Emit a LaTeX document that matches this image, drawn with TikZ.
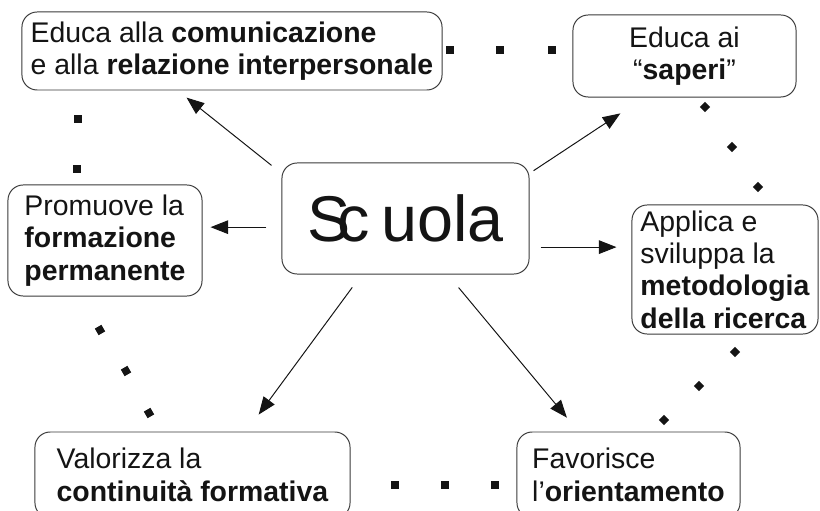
\documentclass[tikz,border=0pt]{standalone}
\usepackage{fontspec}
\setmainfont{Liberation Sans}
\usetikzlibrary{arrows.meta}
\definecolor{MapInk}{HTML}{141414}
\definecolor{MapLine}{HTML}{3A3A3A}
\definecolor{MapWhite}{HTML}{FFFFFF}
\tikzset{
  idea/.style={draw=MapLine,line width=0.7pt,fill=MapWhite,rounded corners=0.38cm,text=MapInk,inner sep=0pt,font=\fontsize{20.2}{23}\selectfont},
  link/.style={draw=MapInk,line width=0.7pt,-{Triangle[length=0.44cm,width=0.34cm]}},
  sqdot/.style={fill=MapInk,inner sep=0pt,minimum size=0.2cm},
  rhdot/.style={sqdot,rotate=45,minimum size=0.18cm},
  tidot/.style={sqdot,rotate=30,minimum size=0.19cm}
}

\begin{document}
\begin{tikzpicture}[x=0.025cm,y=-0.025cm]
\useasboundingbox (0,0) rectangle (820,511);
% the seven boxes
\node[idea,minimum width=10.5cm,minimum height=1.95cm,align=left] (comunic) at (232,51) {Educa alla \textbf{comunicazione}\\e alla \textbf{relazione interpersonale}};
\node[idea,minimum width=5.575cm,minimum height=2.05cm,align=center] (saperi) at (684.5,56) {Educa ai\\“\textbf{saperi}”};
\node[idea,minimum width=6.175cm,minimum height=2.775cm,font=\fontsize{46}{50}\selectfont] (scuola) at (405.5,218.5) {S\kern-0.2em c\kern0.18em uola};
\node[idea,minimum width=4.85cm,minimum height=2.775cm,align=left] (formaz) at (105,240.5) {Promuove la\\\textbf{formazione}\\\textbf{permanente}};
\node[idea,minimum width=4.65cm,minimum height=3.225cm,align=left] (ricerca) at (725,269.5) {Applica e\\sviluppa la\\\textbf{metodologia}\\\textbf{della ricerca}};
\node[idea,minimum width=7.875cm,minimum height=2.15cm,align=left] (contin) at (192.5,475) {Valorizza la\\\textbf{continuità formativa}};
\node[idea,minimum width=5.575cm,minimum height=2.15cm,align=left] (orient) at (628.5,475) {Favorisce\\l’\textbf{orientamento}};
% arrows out of Scuola
\draw[link,shorten <=0.32cm,shorten >=0.285cm] (scuola.160) -- (comunic.216);
\draw[link,shorten <=0.12cm,shorten >=0.72cm] (scuola.20) -- (saperi.226);
\draw[link,shorten <=0.375cm,shorten >=0.2cm] (scuola.184) -- (formaz.east |- scuola.184);
\draw[link,shorten <=0.275cm,shorten >=0.375cm] (scuola.-13) -- (ricerca.west |- scuola.-13);
\draw[link,shorten <=0.4cm,shorten >=0.525cm] (scuola.232) -- (contin.39);
\draw[link,shorten <=0.425cm,shorten >=0.45cm] (scuola.307) -- (orient.139);
% dotted ring
\node[sqdot] (top1) at (450,50) {};
\node[sqdot] (top2) at (500,50) {};
\node[sqdot] (top3) at (552,50) {};
\node[rhdot] (rup1) at (705,107) {};
\node[rhdot] (rup2) at (732,147) {};
\node[rhdot] (rup3) at (758,187) {};
\node[rhdot] (rlo1) at (735,352) {};
\node[rhdot] (rlo2) at (699,386) {};
\node[rhdot] (rlo3) at (664,420) {};
\node[sqdot] (bot1) at (395,485) {};
\node[sqdot] (bot2) at (445,485) {};
\node[sqdot] (bot3) at (495,485) {};
\node[tidot] (llo1) at (100,330) {};
\node[tidot] (llo2) at (126,371) {};
\node[tidot] (llo3) at (149,413) {};
\node[sqdot] (lup1) at (78,119) {};
\node[sqdot] (lup2) at (77,169) {};
\end{tikzpicture}
\end{document}
